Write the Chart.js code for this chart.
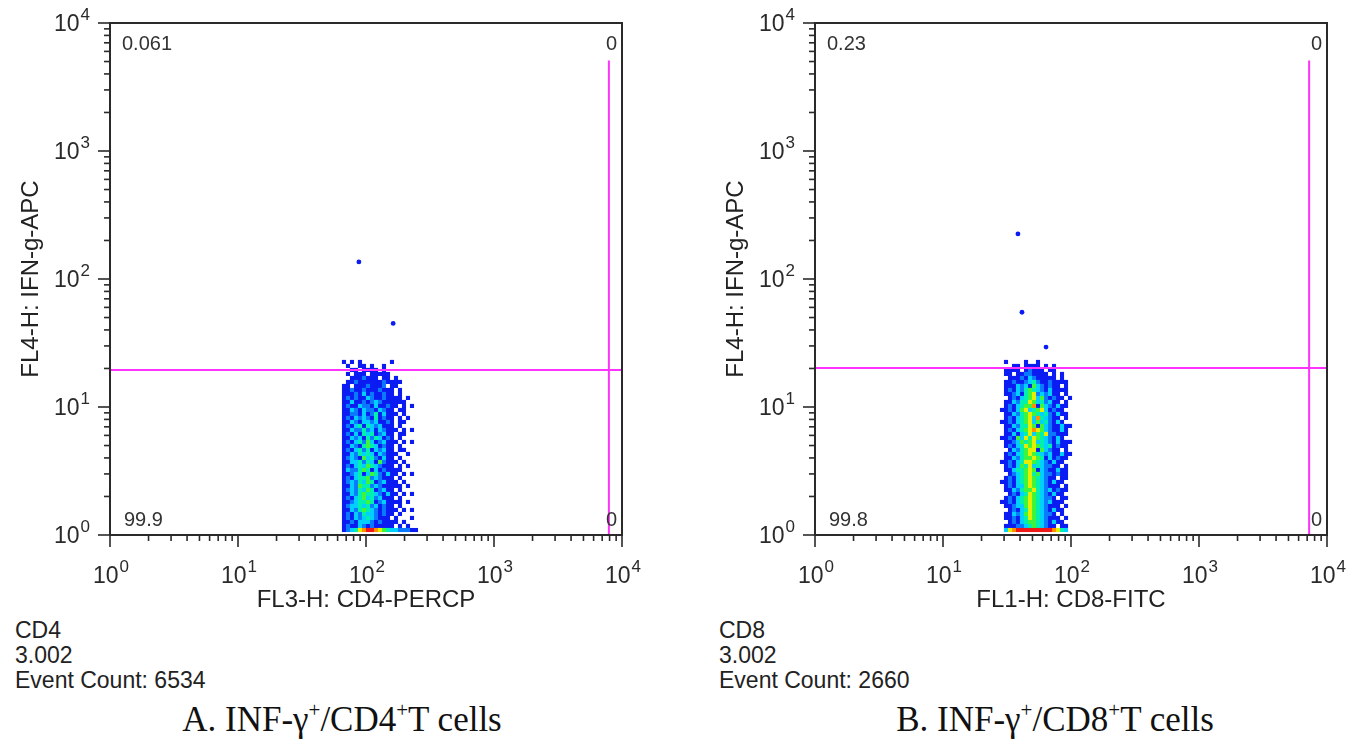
<!DOCTYPE html>
<html><head><meta charset="utf-8">
<script src="https://cdn.jsdelivr.net/npm/chart.js@4/dist/chart.umd.min.js"></script>
<style>
html,body{margin:0;padding:0;background:#fff;width:1348px;height:742px;overflow:hidden;font-family:"Liberation Sans",Arial,sans-serif;}
.panel{position:absolute;top:0;}
#wA{left:0;width:674px;height:615px;}
#wB{left:705px;width:643px;height:615px;}
.info{position:absolute;top:618px;font-size:23px;line-height:25px;color:#222;}
.cap{position:absolute;top:700px;line-height:40px;font-family:"Liberation Serif","Times New Roman",serif;font-size:35px;color:#111;white-space:nowrap;transform:translateX(-50%);}
.cap sup{font-size:21px;vertical-align:0;position:relative;top:-14px;}
</style></head><body>
<div class="panel" id="wA"><canvas id="cA" width="674" height="615"></canvas></div>
<div class="panel" id="wB"><canvas id="cB" width="643" height="615"></canvas></div>
<div class="info" style="left:15px;">CD4<br>3.002<br>Event Count: 6534</div>
<div class="info" style="left:719px;">CD8<br>3.002<br>Event Count: 2660</div>
<div class="cap" style="left:342px;">A. INF-γ<sup>+</sup>/CD4<sup>+</sup>T cells</div>
<div class="cap" style="left:1055px;">B. INF-γ<sup>+</sup>/CD8<sup>+</sup>T cells</div>
<script>
// ---------- axis ticks ----------
const decadeValues = [1, 10, 100, 1000, 10000];
const decadeExponents = ['0', '1', '2', '3', '4'];
const minorMultipliers = [2, 3, 4, 5, 6, 7, 8, 9];

// ---------- panel A : CD4 ----------
const cd4Title = 'FL3-H: CD4-PERCP';
const cd4YTitle = 'FL4-H: IFN-g-APC';
const cd4Quadrants = ['0.061', '0', '99.9', '0']; // UL, UR, LL, LR
const cd4GateX = 7900;
const cd4GateY = 19.5;
const cd4GateTop = 5100;
// density grid (levels 1..8, '.' = empty), rows from high FL4 to low, columns low->high FL3
const cd4Rows = [
"1.1.1.......1......",
".1..11.1..1........",
"..11.1111.1........",
".1.111.11111.......",
"..1112111.11.1.....",
".11211111121111....",
"11.11121112.11.....",
"1121121112111.1....",
"1112131211211.1....",
"121211321121111.1..",
"1131121232111111...",
"12113221311211.1.1.",
"1132132213211.11...",
"11221312413111.1...",
"1213232141211.1.1..",
"1132133231121.11...",
"1213414323111.1....",
"11322423132111.1.1.",
"1213143412311.11...",
"1132314243121.1....",
"12134253123111.1.1.",
"1132145431211.1....",
"1213424132311.11...",
"11324343132111..1..",
"1232153421311.1....",
"11334243152111.1...",
"1213435432111.1.1..",
"132245413121111....",
"11234135421311.1.1.",
"1213445232111.1....",
"12324354123111.1...",
"113254423211111.1..",
"1232435412311.1....",
"11324544321311.1.1.",
"1213453423111.1....",
"112344541231111.1..",
"1233434231211.1....",
"11324543212111.1.1.",
"1213243321211.1....",
"121323432111.1...1.",
"11213332121111.1...",
"1211321211111.1.1.."
];
const cd4Pileup = "1234678876543322211";
const cd4OutlierX = [88, 163];
const cd4OutlierY = [136, 45];
// bin grid (log10 units)
const cd4GridX0 = 1.828, cd4GridY0 = 1.352, gridStep = 0.03125, pileupLogY = 0.039;

// ---------- panel B : CD8 ----------
const cd8Title = 'FL1-H: CD8-FITC';
const cd8YTitle = 'FL4-H: IFN-g-APC';
const cd8Quadrants = ['0.23', '0', '99.8', '0'];
const cd8GateX = 7250;
const cd8GateY = 20.2;
const cd8GateTop = 5100;
const cd8Rows = [
".1....1..1........",
"...11.1111.1.1....",
".1111.12111.11....",
".11.11221111.1.1..",
"..111213211111.1..",
".1121123421121111.",
".11132315321211.1.",
".1213245432131111.",
".11231456232311.1.",
"..12134563521211.1",
".11324465342311.1.",
".1213455715321311.",
"1121356345631211..",
".1132456543421311.",
".12134563743211.1.",
"1121345635342131..",
".11324465153211311",
".1213456765321131.",
".1131346354622111.",
"1121536465432131..",
".11235456343213111",
".1213465654341211.",
"..1324566153211.1.",
".12134565432311311",
".1132455654131211.",
"1121346654321311..",
".12135463432211.1.",
".1134456513211311.",
"..123456453221211.",
".1213456543211.11.",
"1121345654321311..",
".12133565432111.1.",
".1132455643231211.",
"..12134654321311..",
".1213456543221.11.",
"1121345654323111..",
".11233565432111.1.",
"..12134654321311..",
".1132356543221.1..",
".11213465432111.1.",
"..12134554321311..",
".1112234543211.11."
];
const cd8Pileup = ".3678888888887643.";
const cd8OutlierX = [38.5, 41.4, 63.8];
const cd8OutlierY = [225, 55, 29.4];
const cd8GridX0 = 1.461, cd8GridY0 = 1.352;

// ---------- styles ----------
const levelColors = {
  '1': '#0b1cf2', '2': '#0a78ff', '3': '#00cfff', '4': '#00f0b0',
  '5': '#3cf53c', '6': '#e6ee00', '7': '#ff9000', '8': '#f01818'
};
const gateColor = '#ff33ff';
const inkColor = '#2a2a2a';
const fontFamily = '"Liberation Sans", Arial, sans-serif';

function densityDatasets(rows, pile, x0, y0) {
  const byLevel = {};
  rows.forEach((row, r) => {
    [...row].forEach((ch, c) => {
      if (ch === '.') return;
      (byLevel[ch] = byLevel[ch] || []).push({ x: Math.pow(10, x0 + c * gridStep), y: Math.pow(10, y0 - r * gridStep) });
    });
  });
  [...pile].forEach((ch, c) => {
    if (ch === '.') return;
    (byLevel[ch] = byLevel[ch] || []).push({ x: Math.pow(10, x0 + c * gridStep), y: Math.pow(10, pileupLogY) });
  });
  return Object.keys(byLevel).sort().reverse().map(l => ({
    label: 'level ' + l, data: byLevel[l], pointStyle: 'rect', pointRadius: 2.9,
    pointHoverRadius: 2.9, backgroundColor: levelColors[l], borderWidth: 0
  }));
}

function gateDatasets(gx, gy, gtop) {
  return [
    { label: 'gateH', data: [{ x: decadeValues[0], y: gy }, { x: decadeValues[4], y: gy }], showLine: true,
      borderColor: gateColor, borderWidth: 2, pointRadius: 0 },
    { label: 'gateV', data: [{ x: gx, y: decadeValues[0] }, { x: gx, y: gtop }], showLine: true,
      borderColor: gateColor, borderWidth: 2, pointRadius: 0 }
  ];
}

function outlierDataset(xs, ys) {
  return { label: 'outliers', data: xs.map((x, i) => ({ x, y: ys[i] })), pointStyle: 'circle', pointRadius: 2.4,
    backgroundColor: levelColors['1'], borderWidth: 0 };
}

function drawExpLabel(ctx, px, py, exp, align) {
  const baseFont = '23px ' + fontFamily;
  const supFont = '17px ' + fontFamily;
  ctx.font = baseFont; const wb = ctx.measureText('10').width;
  ctx.font = supFont; const ws = ctx.measureText(exp).width;
  const total = wb + ws + 1;
  let left = align === 'center' ? px - total / 2 : px - total;
  ctx.textBaseline = 'middle'; ctx.textAlign = 'left';
  ctx.font = baseFont; ctx.fillText('10', left, py);
  ctx.font = supFont; ctx.fillText(exp, left + wb + 1, py - 10);
}

const decor = {
  id: 'decor',
  afterDraw(chart, args, opts) {
    const { ctx, chartArea: a, scales: { x, y } } = chart;
    ctx.save();
    ctx.strokeStyle = inkColor; ctx.fillStyle = inkColor;
    ctx.lineWidth = 2;
    ctx.strokeRect(a.left, a.top, a.right - a.left, a.bottom - a.top);
    ctx.lineWidth = 1.6;
    const seg = (x1, y1, x2, y2) => { ctx.beginPath(); ctx.moveTo(x1, y1); ctx.lineTo(x2, y2); ctx.stroke(); };
    decadeValues.forEach((v, i) => {
      const px = x.getPixelForValue(v), py = y.getPixelForValue(v);
      seg(px, a.bottom, px, a.bottom + 12);
      seg(a.left, py, a.left - 12, py);
      if (i < decadeValues.length - 1) {
        minorMultipliers.forEach(m => {
          const mx = x.getPixelForValue(v * m), my = y.getPixelForValue(v * m);
          seg(mx, a.bottom, mx, a.bottom + 6);
          seg(a.left, my, a.left - 6, my);
        });
      }
      drawExpLabel(ctx, px + 1, a.bottom + 42, decadeExponents[i], 'center');
      drawExpLabel(ctx, a.left - 20, py + 2, decadeExponents[i], 'right');
    });
    // quadrant percentages
    const q = opts.quadrants;
    ctx.font = '20px ' + fontFamily;
    ctx.fillStyle = '#333'; ctx.textBaseline = 'middle';
    ctx.textAlign = 'left';
    ctx.fillText(q[0], a.left + 12, a.top + 21);
    ctx.fillText(q[2], a.left + 14, a.bottom - 15);
    ctx.textAlign = 'right';
    ctx.fillText(q[1], a.right - 5, a.top + 21);
    ctx.fillText(q[3], a.right - 5, a.bottom - 15);
    ctx.restore();
  }
};

function makeChart(id, rows, pile, x0, y0, gx, gy, gtop, ox, oy, xTitle, yTitle, quads, rightPad) {
  const datasets = [...gateDatasets(gx, gy, gtop), outlierDataset(ox, oy), ...densityDatasets(rows, pile, x0, y0)];
  return new Chart(document.getElementById(id), {
    type: 'scatter',
    data: { datasets },
    options: {
      responsive: false, animation: false,
      layout: { padding: { left: 0, top: 23, right: rightPad, bottom: 0 } },
      plugins: { legend: { display: false }, tooltip: { enabled: false }, decor: { quadrants: quads } },
      scales: {
        x: {
          type: 'logarithmic', min: decadeValues[0], max: decadeValues[4],
          grid: { display: false }, border: { display: false }, ticks: { display: false },
          title: { display: true, text: xTitle, color: '#222', padding: { top: 0, bottom: 0 },
            font: { family: fontFamily, size: 24 } },
          afterFit: s => { s.height = 80; }
        },
        y: {
          type: 'logarithmic', min: decadeValues[0], max: decadeValues[4],
          grid: { display: false }, border: { display: false }, ticks: { display: false },
          title: { display: true, text: yTitle, color: '#222', padding: { top: 17, bottom: 0 },
            font: { family: fontFamily, size: 24 } },
          afterFit: s => { s.width = 110; }
        }
      }
    },
    plugins: [decor]
  });
}

makeChart('cA', cd4Rows, cd4Pileup, cd4GridX0, cd4GridY0, cd4GateX, cd4GateY, cd4GateTop,
  cd4OutlierX, cd4OutlierY, cd4Title, cd4YTitle, cd4Quadrants, 52);
makeChart('cB', cd8Rows, cd8Pileup, cd8GridX0, cd8GridY0, cd8GateX, cd8GateY, cd8GateTop,
  cd8OutlierX, cd8OutlierY, cd8Title, cd8YTitle, cd8Quadrants, 21);
</script>
</body></html>
